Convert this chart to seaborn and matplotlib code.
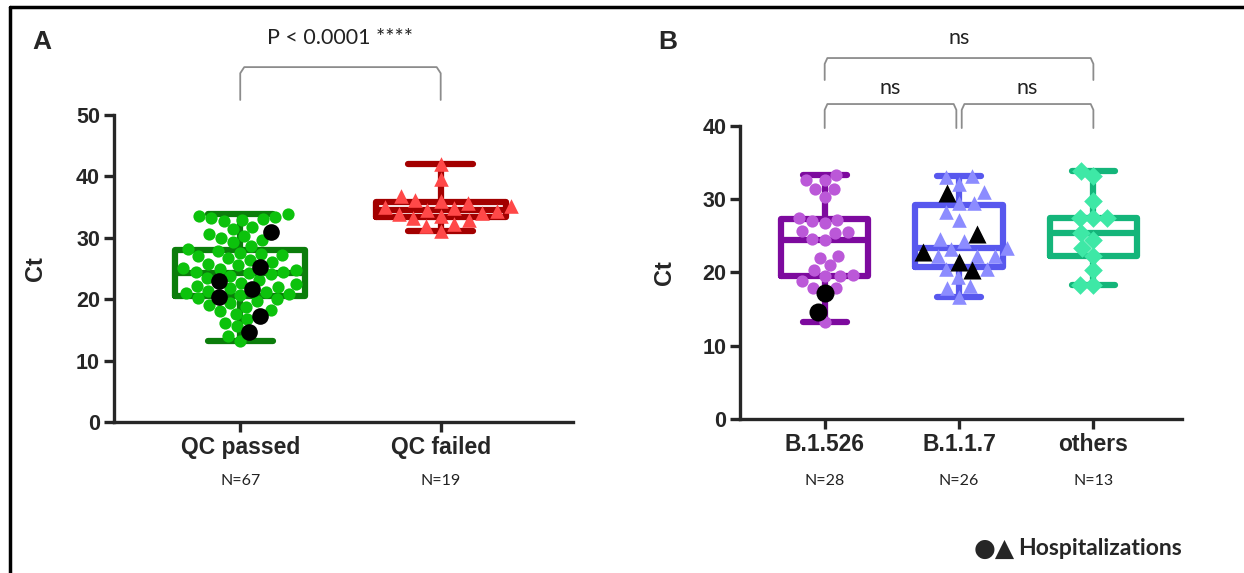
import pandas as pd
import seaborn as sns
import matplotlib.pyplot as plt
import matplotlib.transforms as mtransforms
from matplotlib.lines import Line2D

# ---- Panel A: Ct by QC status ----
groups_a = ["QC passed", "QC failed"]
qc_passed = [33.8, 33.6, 33.4, 33.2, 33.0, 32.9, 32.7, 31.8, 31.4, 31.0, 30.6, 30.3, 30.0,
             29.6, 29.3, 28.6, 28.2,
             27.9, 27.6, 27.4, 27.2, 27.0, 26.7, 26.4, 26.1, 25.8, 25.5, 25.2, 25.1, 24.9,
             24.7, 24.5, 24.4, 24.3,
             24.1, 23.8, 23.5, 23.2, 22.9, 22.7, 22.5, 22.2, 22.0, 21.8, 21.6, 21.4, 21.2,
             21.0, 20.9, 20.7,
             20.4, 20.2, 20.0, 19.7, 19.4, 19.1, 18.8, 18.3, 18.0, 17.6, 17.2, 16.8, 16.2,
             15.6, 14.7, 14.0, 13.2]
qc_passed_hosp = [31.0, 22.9, 20.4, 25.2, 21.6, 17.2, 14.7]
qc_failed = [42.0, 39.5, 36.8, 36.2, 36.0, 35.7, 35.2, 35.0, 34.8, 34.6, 34.3, 34.1,
             33.9, 33.6, 33.2, 32.9, 32.3, 31.9, 31.1]
qc_failed_hosp = []
n_labels_a = ["N=67", "N=19"]

# ---- Panel B: Ct by lineage ----
groups_b = ["B.1.526", "B.1.1.7", "others"]
b1526 = [33.3, 32.6, 32.6, 31.4, 31.4, 30.3, 27.4, 27.2, 27.0, 26.8, 25.5, 25.4, 25.6,
         24.4, 24.6, 22.3, 22.0, 21.0, 20.4, 19.6, 19.5, 19.5, 18.8, 17.9, 17.9, 17.2,
         14.6, 13.2]
b1526_hosp = [17.2, 14.6]
b117 = [33.1, 33.2, 32.1, 31.0, 29.5, 29.5, 28.2, 27.2, 24.6, 24.3, 23.2, 23.4, 22.2,
        22.2, 22.2, 20.5, 20.5, 19.4, 18.1, 17.9, 16.7, 30.8, 25.3, 22.8, 21.5, 20.3]
b117_hosp = [30.8, 25.3, 22.8, 21.5, 20.3]
others = [33.2, 33.9, 29.7, 27.4, 27.4, 27.4, 25.4, 24.5, 23.3, 22.2, 20.3, 18.3, 18.3]
others_hosp = []
n_labels_b = ["N=28", "N=26", "N=13"]

box_colors_a = {"QC passed": "#0b7d0b", "QC failed": "#a30000"}
point_colors_a = {"QC passed": "#0cc20c", "QC failed": "#ff4848"}
markers_a = {"QC passed": "o", "QC failed": "^"}

box_colors_b = {"B.1.526": "#7d0a9e", "B.1.1.7": "#5858ee", "others": "#14b57a"}
point_colors_b = {"B.1.526": "#bb58d8", "B.1.1.7": "#8c8cff", "others": "#3ee8a6"}
markers_b = {"B.1.526": "o", "B.1.1.7": "^", "others": "D"}

LABEL_FONT = ["Liberation Sans", "DejaVu Sans"]
NOTE_FONT = ["Lato", "DejaVu Sans"]


def make_frame(groups, values, hosp):
    rows = []
    for g, vals, h in zip(groups, values, hosp):
        left = list(h)
        for v in vals:
            flag = v in left
            if flag:
                left.remove(v)
            rows.append((g, v, flag))
    return pd.DataFrame(rows, columns=["group", "ct", "hosp"])


def draw_panel(ax, df, groups, box_pal, pt_pal, markers, sizes, ymax):
    sns.boxplot(data=df, x="group", y="ct", hue="group", order=groups, palette=box_pal,
                fill=False, width=0.65, whis=(0, 100), linewidth=4.5, showfliers=False,
                legend=False, ax=ax)
    swarms = {}
    for g in groups:
        sub = df[df["group"] == g]
        n = len(ax.collections)
        sns.swarmplot(data=sub, x="group", y="ct", order=groups, color=pt_pal[g],
                      marker=markers[g], size=sizes[markers[g]], linewidth=0, zorder=3,
                      ax=ax)
        # seaborn may add empty collections for the other categories
        new = [c for c in ax.collections[n:] if len(c.get_offsets()) == len(sub)]
        swarms[g] = (new[0], sub["hosp"].to_numpy())
    ax.set_ylim(0, ymax)
    ax.set_yticks(range(0, ymax + 1, 10))
    ax.set_xlim(-0.63, len(groups) - 1 + 0.66)
    ax.set_xticks(range(len(groups)), groups)
    ax.set_xlabel("")
    ax.set_ylabel("Ct", fontsize=17, fontweight="bold", family=LABEL_FONT)
    ax.yaxis.set_label_coords(-0.145, 0.5)
    for s in ["top", "right"]:
        ax.spines[s].set_visible(False)
    for s in ["left", "bottom"]:
        ax.spines[s].set_linewidth(2.4)
    ax.tick_params(direction="out", length=7, width=2.4, pad=3)
    for lbl in ax.get_yticklabels():
        lbl.set_fontweight("bold")
        lbl.set_fontsize(15.5)
        lbl.set_family(LABEL_FONT)
    for lbl in ax.get_xticklabels():
        lbl.set_fontweight("bold")
        lbl.set_fontsize(16.5)
        lbl.set_family(LABEL_FONT)
    return swarms


def add_hosp(ax, swarms, markers, size):
    for g, (coll, mask) in swarms.items():
        if mask.sum() == 0:
            continue
        xy = coll.get_offsets()[mask]
        ax.scatter(xy[:, 0], xy[:, 1], marker=markers[g], s=size ** 2, color="black",
                   linewidths=0, zorder=4)


def bracket(ax, x0, x1, y_top, y_bot, text=None, text_y=None):
    trans = mtransforms.blended_transform_factory(ax.transData, ax.transAxes)
    d = 0.02
    ax.add_line(Line2D([x0, x0, x0 + d, x1 - d, x1, x1],
                       [y_bot, y_top - 0.02, y_top, y_top, y_top - 0.02, y_bot],
                       transform=trans, color="#8c8c8c", lw=1.3, clip_on=False))
    if text:
        ax.text((x0 + x1) / 2, text_y, text, transform=trans, ha="center", va="center",
                fontsize=15.5, family=NOTE_FONT, color="#222222")


def n_labels(ax, labels, y):
    trans = mtransforms.blended_transform_factory(ax.transData, ax.transAxes)
    for i, t in enumerate(labels):
        ax.text(i, y, t, transform=trans, ha="center", va="center", fontsize=11.5,
                family=NOTE_FONT, color="#222222")


sns.set_style("ticks")
fig = plt.figure(figsize=(12.44, 5.73), dpi=100)
ax_a = fig.add_axes([0.0916, 0.2635, 0.369, 0.5358])
ax_b = fig.add_axes([0.5949, 0.2688, 0.3553, 0.5113])

df_a = make_frame(groups_a, [qc_passed, qc_failed], [qc_passed_hosp, qc_failed_hosp])
df_b = make_frame(groups_b, [b1526, b117, others], [b1526_hosp, b117_hosp, others_hosp])

point_sizes = {"o": 8.8, "^": 10.5, "D": 9.5}
swarms_a = draw_panel(ax_a, df_a, groups_a, box_colors_a, point_colors_a, markers_a,
                      point_sizes, 50)
swarms_b = draw_panel(ax_b, df_b, groups_b, box_colors_b, point_colors_b, markers_b,
                      point_sizes, 40)

# swarm positions are only computed when the figure is drawn
fig.canvas.draw()
add_hosp(ax_a, swarms_a, markers_a, 12)
add_hosp(ax_b, swarms_b, markers_b, 13)

bracket(ax_a, 0, 1, 1.156, 1.049, "P < 0.0001 ****", 1.251)
bracket(ax_b, 0, 2, 1.232, 1.157, "ns", 1.300)
bracket(ax_b, 0, 0.98, 1.075, 0.993, "ns", 1.130)
bracket(ax_b, 1.02, 2, 1.075, 0.993, "ns", 1.130)

n_labels(ax_a, n_labels_a, -0.192)
n_labels(ax_b, n_labels_b, -0.212)

fig.text(42 / 1244, 1 - 42 / 573, "A", fontsize=19, fontweight="bold", family=LABEL_FONT,
         ha="center", va="center")
fig.text(668 / 1244, 1 - 42 / 573, "B", fontsize=19, fontweight="bold", family=LABEL_FONT,
         ha="center", va="center")
fig.text(1015 / 1244, 0.042, "\u25cf\u25b2", fontsize=18, family="DejaVu Sans",
         ha="right", va="center")
fig.text(1018 / 1244, 0.042, "Hospitalizations", fontsize=16.5, fontweight="bold",
         family=NOTE_FONT, ha="left", va="center")

# outer frame of the figure (left and top edges only)
frame = dict(color="black", lw=2.5, transform=fig.transFigure)
fig.add_artist(Line2D([0.008, 0.008], [0.0, 0.988], **frame))
fig.add_artist(Line2D([0.008, 1.0], [0.988, 0.988], **frame))

fig.savefig("out.png", dpi=100)
